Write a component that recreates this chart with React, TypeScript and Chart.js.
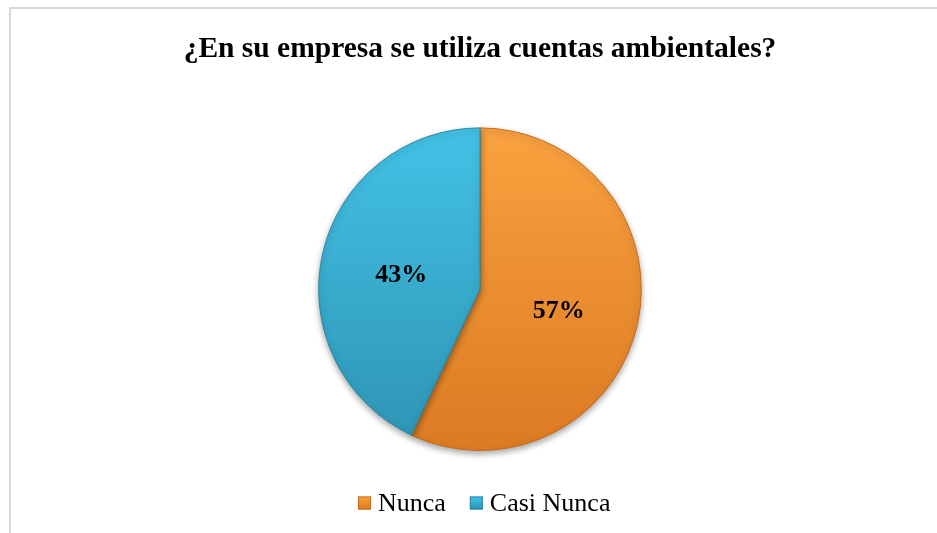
import React, { useEffect, useRef } from "react";
import { Chart, registerables } from "chart.js";

Chart.register(...registerables);

const TITLE = "¿En su empresa se utiliza cuentas ambientales?";
const CATEGORIES = ["Nunca", "Casi Nunca"];
const VALUES = [57, 43];
const TOP_COLORS = ["#f9a23f", "#42c2e6"];
const BOTTOM_COLORS = ["#dc7a22", "#2e93b3"];
const EDGE_COLORS = ["#c46a1c", "#2a86a4"];

const FONT = "'Liberation Serif', 'Times New Roman', serif";

const shadowPlugin = {
  id: "pieShadow",
  beforeDatasetsDraw(chart: any) {
    const ctx = chart.ctx;
    ctx.save();
    ctx.shadowColor = "rgba(0,0,0,0.35)";
    ctx.shadowBlur = 6;
    ctx.shadowOffsetY = 3;
  },
  afterDatasetsDraw(chart: any) {
    chart.ctx.restore();
  },
};

const labelPlugin = {
  id: "pctLabels",
  afterDatasetsDraw(chart: any) {
    const ctx = chart.ctx;
    const meta = chart.getDatasetMeta(0);
    const data = chart.data.datasets[0].data as number[];
    const total = data.reduce((a, b) => a + b, 0);
    ctx.save();
    ctx.font = `bold 26px ${FONT}`;
    ctx.fillStyle = "#000";
    ctx.textAlign = "center";
    ctx.textBaseline = "middle";
    meta.data.forEach((arc: any, i: number) => {
      const p = arc.tooltipPosition();
      const pct = Math.round((data[i] / total) * 100);
      ctx.fillText(pct + "%", p.x, p.y + 4);
    });
    ctx.restore();
  },
};

const legendPlugin = {
  id: "customLegend",
  afterDraw(chart: any) {
    const ctx = chart.ctx;
    const labels = chart.data.labels as string[];
    const fontSize = 26;
    const box = 13;
    const gapBoxText = 7;
    const gapItems = 24;
    ctx.save();
    ctx.font = `${fontSize}px ${FONT}`;
    const widths = labels.map((l) => box + gapBoxText + ctx.measureText(l).width);
    const total = widths.reduce((a, b) => a + b, 0) + gapItems * (labels.length - 1);
    const cx = (chart.chartArea.left + chart.chartArea.right) / 2 + 4;
    let x = Math.round(cx - total / 2);
    const y = 503;
    labels.forEach((l, i) => {
      const g = ctx.createLinearGradient(0, y - box / 2, 0, y + box / 2);
      g.addColorStop(0, TOP_COLORS[i]);
      g.addColorStop(1, BOTTOM_COLORS[i]);
      ctx.fillStyle = g;
      ctx.fillRect(x, y - box / 2, box, box);
      ctx.strokeStyle = EDGE_COLORS[i];
      ctx.lineWidth = 1;
      ctx.strokeRect(x + 0.5, y - box / 2 + 0.5, box - 1, box - 1);
      ctx.fillStyle = "#000";
      ctx.textAlign = "left";
      ctx.textBaseline = "middle";
      ctx.fillText(l, x + box + gapBoxText, y + 1);
      x += widths[i] + gapItems;
    });
    ctx.restore();
  },
};

function makeGradient(context: any) {
  const chart = context.chart;
  const area = chart.chartArea;
  const i = context.dataIndex;
  if (!area) return TOP_COLORS[i];
  const g = chart.ctx.createLinearGradient(0, area.top, 0, area.bottom);
  g.addColorStop(0, TOP_COLORS[i]);
  g.addColorStop(1, BOTTOM_COLORS[i]);
  return g;
}

export default function App() {
  const ref = useRef<HTMLCanvasElement | null>(null);
  useEffect(() => {
    if (!ref.current) return;
    const chart = new Chart(ref.current, {
      type: "pie",
      data: {
        labels: CATEGORIES,
        datasets: [
          {
            data: VALUES,
            backgroundColor: makeGradient as any,
            borderColor: EDGE_COLORS,
            borderWidth: 1,
          },
        ],
      },
      options: {
        animation: false,
        responsive: false,
        maintainAspectRatio: false,
        layout: { padding: { left: 23, right: 0, top: 0, bottom: 82 } },
        plugins: {
          legend: { display: false },
          tooltip: { enabled: false },
          title: {
            display: true,
            text: TITLE,
            color: "#000",
            font: { family: FONT, size: 29.5, weight: "bold", lineHeight: 1.2 },
            padding: { top: 32, bottom: 60 },
          },
        },
      },
      plugins: [shadowPlugin, labelPlugin, legendPlugin],
    });
    return () => chart.destroy();
  }, []);

  return (
    <div style={{ position: "fixed", left: 0, top: 0, width: 937, height: 533, background: "#fff", overflow: "hidden" }}>
      <div
        style={{
          position: "absolute",
          left: 9,
          top: 7,
          width: 1000,
          height: 600,
          border: "2px solid #d9d9d9",
          boxSizing: "border-box",
        }}
      />
      <canvas ref={ref} width={937} height={533} style={{ position: "absolute", left: 0, top: 0 }} />
    </div>
  );
}
